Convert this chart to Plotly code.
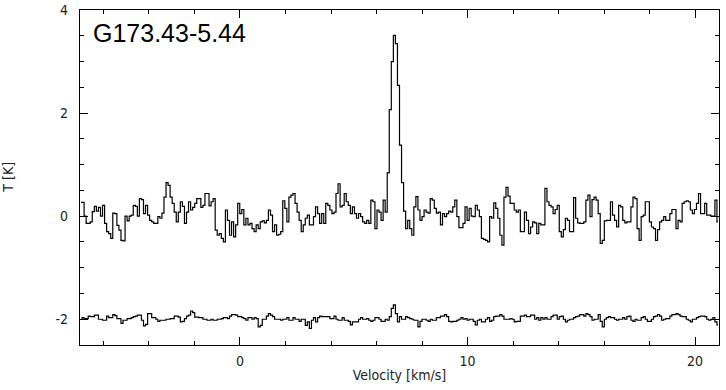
import numpy as np
import plotly.graph_objects as go

# channel grid of the spectrum (km/s)
v_start = -7.03
dv = 0.09

# main spectrum T [K], one value per channel
t_main = [
    # -7.0 .. -1.5
    0.27, 0.27, 0.0, -0.14, -0.14, -0.11, 0.09, 0.19, 0.10, 0.17, 0.0, 0.21, -0.14, -0.30, -0.34, -0.43,
    0.06, 0.05, -0.18, -0.27, -0.47, -0.48, 0.0, -0.09, 0.0, 0.02, 0.21, 0.19, 0.0, 0.34, 0.32, 0.05,
    0.21, 0.02, -0.08, -0.11, -0.14, -0.14, -0.01, -0.04, 0.06, 0.37, 0.65, 0.60, 0.37, 0.25, 0.08, -0.11,
    0.08, 0.28, 0.19, -0.14, 0.08, 0.28, 0.12, 0.17, 0.25, 0.34, 0.34, 0.17, 0.21,
    # -1.5 .. 4.0
    0.44, 0.44, 0.20, 0.28, 0.34, -0.27, -0.37, -0.34, -0.43, -0.50, 0.12, -0.08, -0.37, -0.11, -0.40, -0.17,
    0.25, 0.05, 0.13, -0.17, -0.04, -0.17, -0.14, -0.24, -0.30, -0.17, -0.24, -0.11, -0.09, -0.13, -0.08, 0.12,
    0.02, -0.30, -0.17, -0.37, -0.35, -0.30, 0.30, 0.15, -0.11, 0.37, 0.41, 0.44, 0.25, 0.08, -0.08, -0.30,
    -0.17, -0.04, 0.02, -0.17, -0.17, -0.01, 0.18, 0.05, -0.14, 0.05, -0.14, 0.25, 0.21,
    # 4.0 .. 8.2 (line)
    0.12, 0.05, 0.08, 0.44, 0.63, 0.18, 0.21, 0.44, 0.28, 0.21, 0.05, 0.18, 0.05, -0.04, 0.05, -0.01,
    -0.11, -0.14, -0.08, -0.14, 0.31, 0.28, -0.24, 0.12, 0.08, -0.08, 0.31, 0.08,
    0.84, 2.07, 3.00, 3.51, 3.35, 2.54, 1.38, 0.65, 0.10, -0.24, -0.08, -0.24, -0.37, 0.18, 0.38, 0.12,
    -0.08, -0.01, 0.12,
    # 8.2 .. 13.7
    0.08, 0.06, 0.34, 0.31, 0.15, 0.06, 0.08, -0.17, 0.05, -0.01, 0.05, 0.10, 0.08, 0.18, 0.31, -0.01,
    -0.22, -0.22, -0.14, 0.18, -0.08, 0.15, 0.0, -0.01, 0.21, 0.12, -0.01, -0.43, -0.45, -0.47, -0.50, -0.01,
    -0.04, 0.26, 0.15, -0.04, -0.37, -0.56, 0.37, 0.56, 0.39, 0.25, 0.25, 0.12, 0.08, 0.12, -0.30, -0.30,
    0.08, -0.08, -0.34, -0.21, -0.11, -0.13, -0.34, -0.14, -0.17, -0.17, 0.54, 0.28, 0.21,
    # 13.7 .. 19.2
    0.18, 0.05, 0.13, 0.21, -0.30, -0.40, -0.26, -0.04, -0.08, -0.30, -0.30, 0.36, -0.04, -0.13, -0.14, -0.14,
    -0.11, 0.31, 0.41, -0.01, 0.32, 0.37, 0.31, 0.05, -0.53, -0.47, -0.09, -0.08, -0.08, 0.28, 0.02, -0.08,
    -0.21, 0.21, 0.18, -0.08, -0.13, -0.11, -0.11, 0.18, 0.37, 0.34, -0.24, -0.47, -0.01, 0.02, 0.28, 0.28,
    -0.11, -0.21, -0.24, -0.47, -0.26, -0.11, -0.08, -0.01, -0.08, -0.08, 0.05, 0.13, 0.13,
    # 19.2 .. 21.0
    -0.24, -0.08, -0.11, 0.25, 0.28, 0.30, 0.28, 0.12, 0.05, 0.13, 0.25, 0.44, 0.05, 0.05, 0.25, 0.02,
    0.02, 0.0, 0.0, 0.31, -0.11,
]

# lower spectrum, plotted with a -2 K offset
t_low = [
    -2.00, -1.97, -1.99, -1.99, -1.94, -1.95, -1.95, -1.92, -1.92, -2.00, -2.00, -2.02, -2.02, -1.94, -1.97, -1.97,
    -1.91, -1.93, -1.99, -1.99, -2.08, -2.02, -2.02, -1.99, -1.99, -1.97, -1.95, -1.94, -1.92, -1.92, -2.02, -2.13,
    -2.10, -1.89, -1.89, -1.97, -1.97, -2.00, -2.04, -2.02, -2.02, -2.02, -2.00, -2.00, -1.99, -1.99, -1.94, -1.94,
    -1.96, -2.05, -2.04, -1.99, -1.94, -1.92, -1.84, -1.87, -1.96, -1.96, -1.97, -1.97, -2.00, -2.00, -2.02, -2.02,
    -2.00, -2.02, -2.02, -2.00, -2.00, -1.99, -1.97, -1.97, -1.99, -1.94, -1.91, -1.91, -1.92, -1.95, -1.95, -1.97,
    -1.99, -2.02, -1.97, -1.97, -2.00, -1.97, -1.99, -2.15, -2.12, -2.00, -2.00, -1.94, -1.89, -1.92, -1.95, -2.00,
    -2.00, -2.00, -2.02, -2.00, -2.00, -1.97, -2.02, -2.02, -1.97,
    -2.00, -2.00, -2.04, -2.00, -2.00, -2.12, -2.05, -2.18, -2.02, -1.97, -2.05, -1.97, -1.94, -1.95, -1.95, -1.95,
    -1.95, -1.99, -1.99, -1.94, -2.00, -2.02, -2.02, -1.97, -2.02, -2.02, -2.04, -2.11, -2.05, -2.05, -2.05, -2.00,
    -1.97, -2.00, -2.00, -1.99, -2.02, -2.04, -2.02, -1.97, -1.97, -2.00, -2.04, -2.04, -2.00, -2.02, -1.95, -1.79,
    -1.72, -1.89, -2.05, -1.95, -2.00, -2.00, -1.95, -1.97, -1.99, -2.00, -2.02, -2.02, -2.15, -2.04, -2.00, -2.00,
    -2.02, -2.04, -2.00, -2.02, -2.02, -1.97, -1.97, -1.94, -1.94, -1.91, -1.95, -2.04, -2.05, -2.04, -2.04, -2.02,
    -2.00, -1.97, -2.00, -1.99, -2.02, -2.00, -2.00, -2.04, -2.11, -2.02, -2.00, -2.05, -2.05, -2.00, -1.97, -2.04,
    -2.02, -1.95, -1.94, -1.94, -1.91, -1.94, -2.00, -2.00, -2.00,
    -1.99, -2.00, -2.05, -2.04, -2.04, -1.94, -1.94, -1.92, -1.95, -1.95, -1.92, -1.92, -2.00, -1.97, -2.02, -1.97,
    -2.00, -1.97, -2.00, -2.00, -1.95, -1.92, -1.92, -2.00, -1.95, -1.94, -2.00, -2.05, -2.02, -2.00, -2.00, -1.97,
    -1.95, -1.94, -1.91, -1.91, -1.94, -1.89, -1.91, -1.95, -2.02, -2.00, -2.00, -1.91, -2.04, -2.15, -2.00, -1.97,
    -1.95, -1.97, -1.97, -2.00, -2.02, -2.00, -2.00, -1.97, -2.00, -1.95, -1.94, -2.02, -2.04, -2.00, -2.02, -2.02,
    -1.97, -1.95, -2.00, -2.04, -2.04, -2.00, -1.95, -1.94, -1.91, -1.94, -2.02, -2.00, -1.99, -1.99, -1.94, -1.91,
    -1.91, -1.89, -1.91, -1.94, -1.95, -1.95, -2.00, -2.02, -2.05, -2.00, -2.00, -1.97, -1.95, -1.94, -1.94, -1.95,
    -2.00, -2.02, -2.00, -1.97, -2.05, -2.11,
]

source_name = "G173.43-5.44"
y_tickvals = [-2, 0, 2, 4]
y_ticktext = ["-2", "0", "2", "4"]
x_tickvals = [0, 10, 20]
x_ticktext = ["0", "10", "20"]

velocity = v_start + dv * (np.arange(len(t_main)) + 0.5)

fig = go.Figure()
for t in (t_main, t_low):
    fig.add_trace(go.Scatter(
        x=velocity, y=t, mode="lines",
        line=dict(color="black", width=1.2, shape="hvh"),
        showlegend=False, hoverinfo="skip",
    ))

tick_font = dict(family="Liberation Sans Narrow, DejaVu Sans Condensed, DejaVu Sans", size=14, color="#222222")
axis_common = dict(
    showline=True, linecolor="black", linewidth=1.2, mirror="allticks",
    ticks="inside", ticklen=8, tickwidth=1, tickcolor="black",
    showgrid=False, zeroline=False, tickfont=tick_font, automargin=False,
)

fig.update_xaxes(
    range=[v_start, v_start + dv * len(t_main)],
    tickvals=x_tickvals, ticktext=x_ticktext,
    minor=dict(dtick=2, tick0=0, ticks="inside", ticklen=4, tickcolor="black", tickwidth=1),
    title=dict(text="Velocity [km/s]", font=tick_font, standoff=2),
    ticklabelstandoff=3,
    **axis_common,
)
fig.update_yaxes(
    range=[-2.5, 4.002],
    tickvals=y_tickvals, ticktext=y_ticktext,
    minor=dict(dtick=0.5, tick0=0, ticks="inside", ticklen=4, tickcolor="black", tickwidth=1),
    ticklabelstandoff=8, ticklabeloverflow="allow",
    **axis_common,
)

# y axis title, placed by hand near the left edge
fig.add_annotation(
    text="T [K]", xref="paper", yref="paper", x=-0.114, y=0.5,
    xanchor="center", yanchor="middle", textangle=-90, showarrow=False,
    font=tick_font,
)
fig.add_annotation(
    text=source_name, xref="paper", yref="paper", x=0.017, y=0.931,
    xanchor="left", yanchor="middle", showarrow=False,
    font=dict(family="Liberation Sans", size=25, color="black"),
)

fig.update_layout(
    width=726, height=390,
    margin=dict(l=80, r=7, t=10, b=45),
    plot_bgcolor="white", paper_bgcolor="white",
)

# drop the default 8px page margin so the figure fills the window
fig.write_html(
    "out.html",
    config={"displayModeBar": False, "staticPlot": True},
    post_script="document.body.style.margin = '0';",
)
